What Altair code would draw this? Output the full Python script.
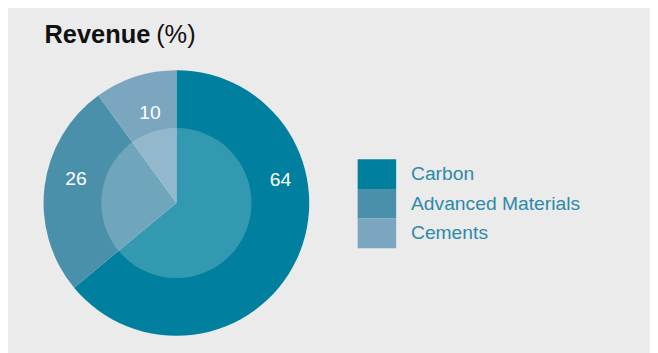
import math
import altair as alt
import pandas as pd

# ---- data ----
categories = ["Carbon", "Advanced Materials", "Cements"]
shares = [64, 26, 10]
colors = ["#00809e", "#4b90ab", "#7aa7bf"]
title_bold = "Revenue"
title_unit = "(%)"

df = pd.DataFrame({
    "category": categories,
    "share": shares,
    "order": list(range(len(categories))),
})

# ---- layout (pixels, not data) ----
W, H = 650, 345
CX, CY = 170.5, 195.3
R_OUT, R_IN = 134.5, 76
# label placement: (angle in degrees clockwise from top, radius)
LABEL_POLAR = {
    "Carbon": (77.5, 108.0),
    "Advanced Materials": (283.4, 104.5),
    "Cements": (343.5, 94.5),
}
FONT = "Liberation Sans"

color_scale = alt.Scale(domain=categories, range=colors)

pie = alt.Chart(df).mark_arc(outerRadius=R_OUT, strokeWidth=0).encode(
    theta=alt.Theta("share:Q", stack=True),
    color=alt.Color(
        "category:N",
        scale=color_scale,
        sort=categories,
        legend=alt.Legend(
            orient="none",
            legendX=358.5,
            legendY=151,
            title=None,
            symbolType="M-1.3,-1H1.3V1H-1.3Z",
            symbolSize=900,
            symbolStrokeWidth=0,
            symbolOpacity=1,
            labelFont=FONT,
            labelFontSize=19.5,
            labelColor="#2d8aa9",
            labelOffset=19.5,
            labelLimit=400,
            rowPadding=0,
            padding=0,
        ),
    ),
    order=alt.Order("order:Q"),
    x=alt.value(CX),
    y=alt.value(CY),
)

one = pd.DataFrame({"k": [0]})

inner = alt.Chart(one).mark_arc(
    radius=R_IN, theta=0, theta2=2 * math.pi, color="white", opacity=0.2
).encode(x=alt.value(CX), y=alt.value(CY))

label_layers = []
for cat in categories:
    ang, rad = LABEL_POLAR[cat]
    label_layers.append(
        alt.Chart(df)
        .transform_filter(alt.datum.category == cat)
        .mark_text(
            theta=math.radians(ang),
            radius=rad,
            font=FONT,
            fontSize=19.5,
            color="white",
            align="center",
            baseline="middle",
        )
        .encode(text="share:Q", x=alt.value(CX), y=alt.value(CY))
    )

title1 = alt.Chart(one).mark_text(
    font=FONT, fontSize=25.7, fontWeight="bold", color="#111111",
    align="left", baseline="alphabetic",
).encode(x=alt.value(37), y=alt.value(33.5), text=alt.value(title_bold))

title2 = alt.Chart(one).mark_text(
    font=FONT, fontSize=25.7, color="#111111",
    align="left", baseline="alphabetic",
).encode(x=alt.value(150), y=alt.value(33.5), text=alt.value(title_unit))

chart = alt.layer(pie, inner, *label_layers, title1, title2).properties(
    width=W, height=H, background="#ebebeb", padding=0, autosize="none"
).configure_view(strokeWidth=0)

chart.save("out.html", embed_options={"renderer": "svg", "actions": False})
